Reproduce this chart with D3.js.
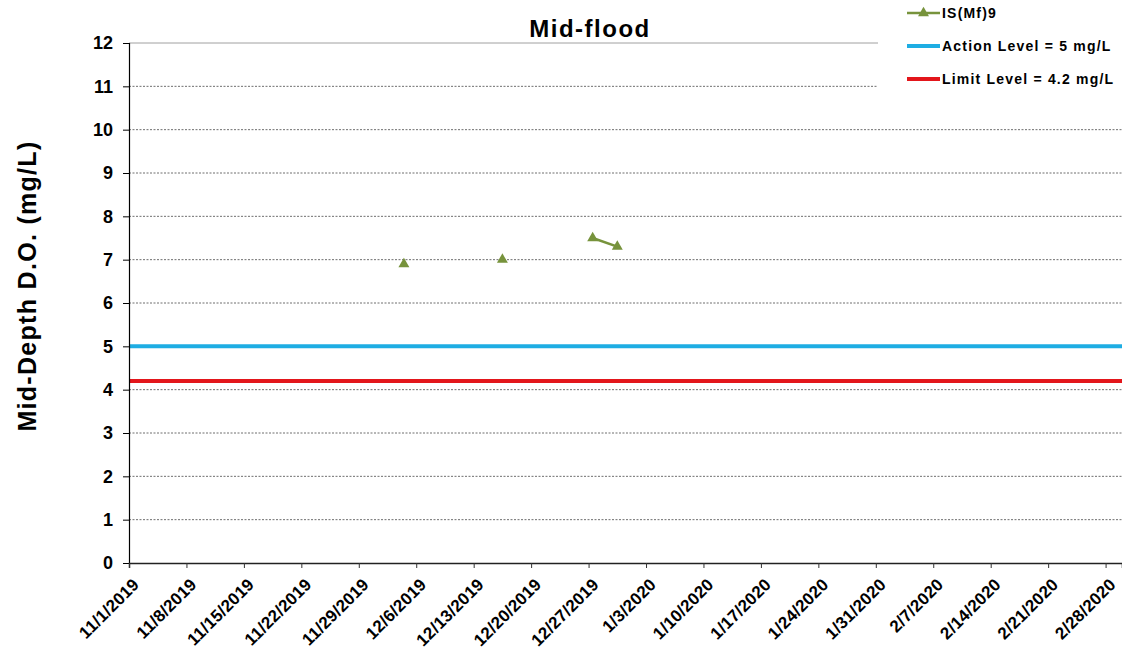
<!DOCTYPE html>
<html>
<head>
<meta charset="utf-8">
<script src="https://cdn.jsdelivr.net/npm/d3@7"></script>
<style>
  html, body { margin: 0; padding: 0; background: #fff; }
  svg { display: block; font-family: Arial, "Liberation Sans", sans-serif; }
</style>
</head>
<body>
<svg id="chart" width="1122" height="654"></svg>
<script>
// Monitoring station IS(Mf)9, mid-depth dissolved oxygen (mid-flood tide)
const sampleDates = ["2019-12-04", "2019-12-09", "2019-12-16", "2019-12-23", "2019-12-27", "2019-12-30"];
const sampleValues = [6.9, null, 7.0, null, 7.5, 7.3];

const actionLevel = 5;
const limitLevel = 4.2;

const seriesName = "IS(Mf)9";
const actionLabel = "Action Level = 5 mg/L";
const limitLabel = "Limit Level = 4.2 mg/L";

const yTicks = [0, 1, 2, 3, 4, 5, 6, 7, 8, 9, 10, 11, 12];
const xStart = "2019-11-01";
const xEnd = "2020-03-01";
const xLastTick = "2020-02-28";

const parse = d3.utcParse("%Y-%m-%d");
const fmt = d3.utcFormat("%-m/%-d/%Y");

const margin = { left: 129, right: 0, top: 43, bottom: 91 };
const W = 1122, H = 654;

const svg = d3.select("#chart");

const x = d3.scaleUtc()
  .domain([parse(xStart), parse(xEnd)])
  .range([margin.left, W - margin.right]);

const y = d3.scaleLinear()
  .domain([0, 12])
  .range([H - margin.bottom, margin.top]);

const xTickValues = d3.utcDay.range(parse(xStart), d3.utcDay.offset(parse(xLastTick), 1), 7);

// horizontal grid (dashed), top line solid
svg.append("g")
  .selectAll("line")
  .data(yTicks.filter(v => v > 0))
  .join("line")
  .attr("x1", margin.left)
  .attr("x2", W - margin.right)
  .attr("y1", d => y(d))
  .attr("y2", d => y(d))
  .attr("stroke", d => d === 12 ? "#a0a0a0" : "#6e6e6e")
  .attr("stroke-width", 1)
  .attr("stroke-dasharray", d => d === 12 ? null : "2,1.5");

// threshold lines
svg.append("line")
  .attr("x1", margin.left).attr("x2", W - margin.right)
  .attr("y1", y(actionLevel)).attr("y2", y(actionLevel))
  .attr("stroke", "#1EADE3").attr("stroke-width", 4);

svg.append("line")
  .attr("x1", margin.left).attr("x2", W - margin.right)
  .attr("y1", y(limitLevel)).attr("y2", y(limitLevel))
  .attr("stroke", "#E3161B").attr("stroke-width", 4);

// y axis
const yAxis = svg.append("g")
  .attr("transform", `translate(${margin.left},0)`)
  .call(d3.axisLeft(y).tickValues(yTicks).tickSize(6).tickPadding(10).tickFormat(d3.format("d")));
yAxis.select(".domain").attr("stroke", "#000").attr("stroke-width", 1.2);
yAxis.selectAll(".tick line").attr("stroke", "#000");
yAxis.selectAll(".tick text")
  .attr("font-size", 18).attr("font-weight", "bold").attr("fill", "#000")
  .attr("font-family", "Arial, 'Liberation Sans', sans-serif");

// x axis
const xAxis = svg.append("g")
  .attr("transform", `translate(0,${H - margin.bottom})`)
  .call(d3.axisBottom(x).tickValues(xTickValues).tickSize(5).tickFormat(fmt));
xAxis.select(".domain").attr("stroke", "#222").attr("stroke-width", 1.5);
xAxis.selectAll(".tick line").attr("stroke", "#333");
xAxis.selectAll(".tick text")
  .attr("font-size", 17).attr("font-weight", "bold").attr("fill", "#000")
  .attr("font-family", "Arial, 'Liberation Sans', sans-serif")
  .attr("letter-spacing", "0.2px")
  .attr("text-anchor", "end")
  .attr("dy", null)
  .attr("transform", "translate(5,17) rotate(-45)");

// data series
const points = sampleDates.map((d, i) => ({ date: d3.utcHour.offset(parse(d), 12), value: sampleValues[i] }));
const green = "#77933C";

svg.append("path")
  .datum(points)
  .attr("fill", "none")
  .attr("stroke", green)
  .attr("stroke-width", 2.5)
  .attr("d", d3.line().defined(d => d.value !== null).x(d => x(d.date)).y(d => y(d.value)));

const tri = d3.symbol().type(d3.symbolTriangle).size(52);
svg.append("g")
  .selectAll("path")
  .data(points.filter(d => d.value !== null))
  .join("path")
  .attr("d", tri)
  .attr("transform", d => `translate(${x(d.date)},${y(d.value)})`)
  .attr("fill", green);

// title
svg.append("text")
  .attr("x", 590).attr("y", 37)
  .attr("text-anchor", "middle")
  .attr("font-size", 24).attr("font-weight", "bold")
  .attr("letter-spacing", "1.5px")
  .text("Mid-flood");

// y axis title
svg.append("text")
  .attr("transform", `translate(36,286) rotate(-90)`)
  .attr("text-anchor", "middle")
  .attr("font-size", 25).attr("font-weight", "bold")
  .attr("letter-spacing", "1.3px")
  .text("Mid-Depth D.O. (mg/L)");

// legend
const legend = svg.append("g");
legend.append("rect")
  .attr("x", 878).attr("y", 0).attr("width", W - 878).attr("height", 96)
  .attr("fill", "#fff");

const legendItems = [
  { label: seriesName, color: green, width: 2.5, marker: true, y: 13 },
  { label: actionLabel, color: "#1EADE3", width: 4, marker: false, y: 46 },
  { label: limitLabel, color: "#E3161B", width: 4, marker: false, y: 79 }
];

const li = legend.selectAll("g.item").data(legendItems).join("g").attr("class", "item");
li.append("line")
  .attr("x1", 907).attr("x2", 940)
  .attr("y1", d => d.y).attr("y2", d => d.y)
  .attr("stroke", d => d.color).attr("stroke-width", d => d.width);
li.filter(d => d.marker).append("path")
  .attr("d", tri)
  .attr("transform", d => `translate(923.5,${d.y})`)
  .attr("fill", d => d.color);
li.append("text")
  .attr("x", 942).attr("y", d => d.y + 5)
  .attr("font-size", 14).attr("font-weight", "bold")
  .attr("letter-spacing", "1.2px")
  .text(d => d.label);
</script>
</body>
</html>
